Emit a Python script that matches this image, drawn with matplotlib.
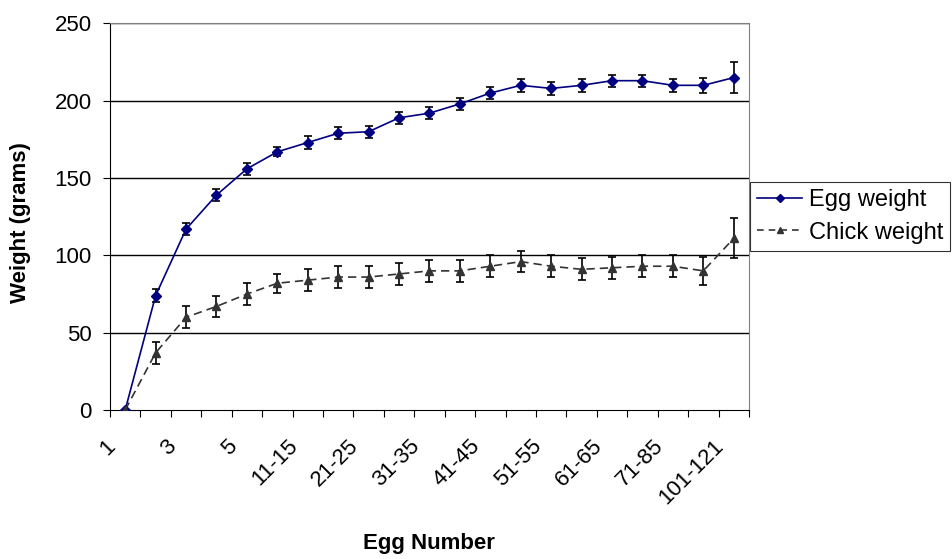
import numpy as np
import matplotlib

matplotlib.use("Agg")
import matplotlib.pyplot as plt
import matplotlib.transforms as mtransforms
from matplotlib.lines import Line2D

plt.rcParams["font.family"] = ["Liberation Sans", "DejaVu Sans"]

# egg number groups
categories = [
    "1", "2", "3", "4", "5", "6-10", "11-15", "16-20", "21-25", "26-30",
    "31-35", "36-40", "41-45", "46-50", "51-55", "56-60", "61-65", "66-70",
    "71-85", "86-100", "101-121",
]
egg_weight = [0, 74, 117, 139, 156, 167, 173, 179, 180, 189, 192, 198, 205,
              210, 208, 210, 213, 213, 210, 210, 215]
egg_err = [0, 4, 4, 4, 4, 3, 4, 4, 4, 4, 4, 4, 4, 4, 4, 4, 4, 4, 4, 5, 10]
chick_weight = [0, 37, 60, 67, 75, 82, 84, 86, 86, 88, 90, 90, 93, 96, 93,
                91, 92, 93, 93, 90, 111]
chick_err = [0, 7, 7, 7, 7, 6, 7, 7, 7, 7, 7, 7, 7, 7, 7, 7, 7, 7, 7, 9, 13]


def plot_weights():
    fig = plt.figure(figsize=(9.53, 5.59), dpi=100)
    ax = fig.add_axes([0.1154, 0.2665, 0.6705, 0.6915])

    x = np.arange(len(categories))
    ax.errorbar(x, egg_weight, yerr=egg_err, color="#000080", lw=1.2,
                marker="D", ms=5, ecolor="black", elinewidth=1.2, capsize=3,
                capthick=1.2, zorder=3)
    ax.errorbar(x, chick_weight, yerr=chick_err, color="#333333", lw=1.2,
                ls=(0, (5, 3)), marker="^", ms=6, ecolor="black",
                elinewidth=1.2, capsize=3, capthick=1.2, zorder=3)

    ax.set_xlim(-0.5, len(categories) - 0.5)
    ax.set_ylim(0, 250)
    ax.set_yticks([0, 50, 100, 150, 200, 250])
    for v in [50, 100, 150, 200, 250]:
        ax.axhline(v, color="black", lw=1, zorder=1)

    # ticks at category boundaries, labels on every other category
    ax.set_xticks(np.arange(-0.5, len(categories)))
    ax.set_xticklabels([])
    ax.tick_params(axis="x", length=5, direction="out")
    ax.tick_params(axis="y", length=5, pad=8, labelsize=16)

    base = mtransforms.blended_transform_factory(ax.transData, ax.transAxes)
    shift = mtransforms.ScaledTranslation(-0.13, -0.33, fig.dpi_scale_trans)
    for i in x[::2]:
        ax.text(i, 0, categories[i], transform=base + shift, rotation=45,
                ha="right", va="center", rotation_mode="anchor",
                fontsize=16, clip_on=False)

    for side in ["top", "right"]:
        ax.spines[side].set_color("#808080")
    ax.spines["left"].set_color("black")
    ax.spines["bottom"].set_color("black")

    fig.text(20.5 / 953, 1 - 223 / 559, "Weight (grams)", rotation=90,
             ha="center", va="center", fontsize=16, fontweight="bold")
    fig.text(429 / 953, 1 - 544 / 559, "Egg Number", ha="center",
             va="center", fontsize=16, fontweight="bold")

    handles = [
        Line2D([], [], color="#000080", lw=1.2, marker="D", ms=4),
        Line2D([], [], color="#333333", lw=1.2, ls=(0, (4, 3)), marker="^",
               ms=5),
    ]
    leg = fig.legend(handles, ["Egg weight", "Chick weight"],
                     loc="upper left", bbox_to_anchor=(750 / 953, 1 - 182 / 559),
                     fontsize=17, frameon=True, fancybox=False,
                     edgecolor="black", borderpad=0.3, handlelength=1.9,
                     handletextpad=0.3, labelspacing=0.45, borderaxespad=0)
    leg.get_frame().set_linewidth(0.8)

    fig.savefig("out.png", dpi=100)
    plt.close(fig)


if __name__ == "__main__":
    plot_weights()
